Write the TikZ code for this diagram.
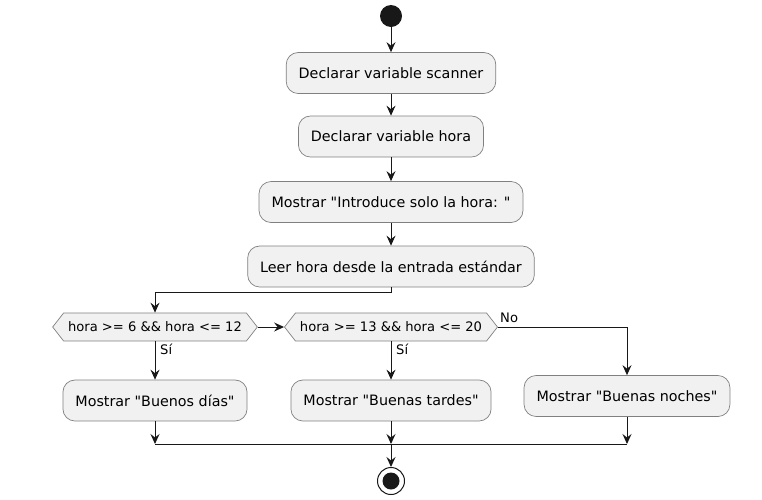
\documentclass[tikz,border=0pt]{standalone}
\usepackage{fontspec}
\setmainfont{DejaVu Sans}[Ligatures=TeXOff]
\usepackage{xcolor}
\usepackage{tikz}
\usetikzlibrary{arrows.meta, positioning, shapes.symbols}

\definecolor{boxfill}{HTML}{F1F1F1}
\definecolor{linecol}{HTML}{181818}

\begin{document}
\begin{tikzpicture}[x=1pt, y=-1pt,
    action/.style={draw=linecol!55, fill=boxfill, rounded corners=12pt, line width=0.7pt,
        minimum height=41pt, inner xsep=12.5pt, font=\fontsize{14.3}{17}\selectfont},
    decision/.style={signal, signal to=east and west, signal pointer angle=104,
        draw=linecol!55, fill=boxfill, line width=0.7pt, minimum height=28pt,
        inner xsep=4.5pt, font=\fontsize{13.1}{15}\selectfont},
    flow/.style={draw=linecol, line width=1pt, -{Stealth[length=10pt, width=9pt, inset=3.5pt]}},
    guard/.style={font=\fontsize{13.1}{15}\selectfont, inner sep=0pt, anchor=west}]
    \useasboundingbox (0,0) rectangle (762,499);
    % Start and end
    \node[circle, fill=linecol, minimum size=22pt, inner sep=0pt] (start) at (391,16) {};
    \node[circle, draw=linecol, line width=1pt, fill=white, minimum size=27pt, inner sep=0pt] (stop) at (391,481) {};
    \fill[linecol] (stop) circle (8.5);
    % Actions
    \node[action] (declscanner) at (391,73) {Declarar variable scanner};
    \node[action] (declhora) at (391,136.5) {Declarar variable hora};
    \node[action] (mostrar) at (391,202) {Mostrar "Introduce solo la hora: "};
    \node[action] (leer) at (391,266.5) {Leer hora desde la entrada estándar};
    % Decisions
    \node[decision] (cond1) at (155,327) {hora >= 6 \&\& hora <= 12};
    \node[decision] (cond2) at (391,327) {hora >= 13 \&\& hora <= 20};
    % Outputs
    \node[action] (dias) at (155,400.5) {Mostrar "Buenos días"};
    \node[action] (tardes) at (391,400.5) {Mostrar "Buenas tardes"};
    \node[action] (noches) at (627,396) {Mostrar "Buenas noches"};
    \coordinate (join) at (391,444);
    % Flow
    \draw[flow] (start) -- (declscanner);
    \draw[flow] (declscanner) -- (declhora);
    \draw[flow] (declhora) -- (mostrar);
    \draw[flow] (mostrar) -- (leer);
    \draw[flow] (leer.south) -- ++(0,5.5) -| (cond1.north);
    \draw[flow] (cond1.east) -- (cond2.west);
    \draw[flow] (cond1.south) -- (dias.north);
    \draw[flow] (cond2.south) -- (tardes.north);
    \draw[flow] (cond2.east) -| (noches.north);
    \node[guard] at (160,349) {Sí};
    \node[guard] at (396,349) {Sí};
    \node[guard] at (500,318) {No};
    % Merge
    \draw[flow] (dias.south) -- (dias.south |- join);
    \draw[flow] (tardes.south) -- (join);
    \draw[flow] (noches.south) -- (noches.south |- join);
    \draw[linecol, line width=1pt] (dias.south |- join) -- (noches.south |- join);
    \draw[flow] (join) -- (stop);
\end{tikzpicture}
\end{document}
